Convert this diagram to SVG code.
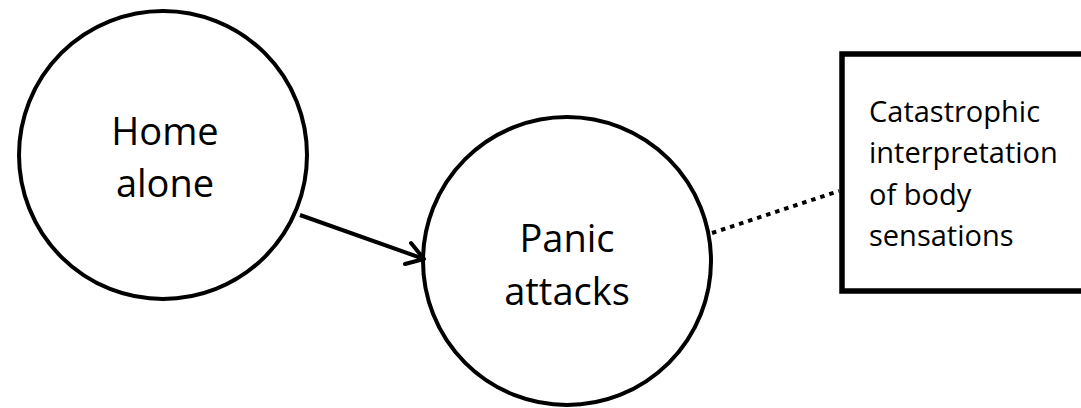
<svg xmlns="http://www.w3.org/2000/svg" width="1081" height="408" viewBox="0 0 1081 408">
<style>
.node{fill:#fff;stroke:#000;stroke-width:4}
.box{fill:#fff;stroke:#000;stroke-width:5.5}
.big{font-family:"Open Sans","Liberation Sans",sans-serif;font-size:38px;fill:#000;text-anchor:middle}
.small{font-family:"Open Sans","Liberation Sans",sans-serif;font-size:29px;fill:#000}
.edge{fill:none;stroke:#000;stroke-width:4}
.dotted{fill:none;stroke:#000;stroke-width:4;stroke-dasharray:4.5 5}
</style>
<rect width="1081" height="408" fill="#fff"/>
<g id="home-alone">
<circle class="node" cx="163" cy="155" r="144"/>
<text class="big" x="165" y="145">Home</text>
<text class="big" x="165" y="197">alone</text>
</g>
<g id="panic-attacks">
<circle class="node" cx="567" cy="261" r="144"/>
<text class="big" x="567" y="252">Panic</text>
<text class="big" x="567" y="305">attacks</text>
</g>
<g id="catastrophic">
<rect class="box" x="842" y="54" width="260" height="237"/>
<text class="small" x="869" y="122">Catastrophic</text>
<text class="small" x="869" y="163">interpretation</text>
<text class="small" x="869" y="205">of body</text>
<text class="small" x="869" y="246">sensations</text>
</g>
<g id="connectors">
<path class="edge" d="M300,215 L424,259"/>
<path class="edge" d="M411,243 L424,259 L405,264" stroke-linecap="round" stroke-linejoin="round"/>
<path class="dotted" d="M712,233 L839,191"/>
</g>
</svg>
